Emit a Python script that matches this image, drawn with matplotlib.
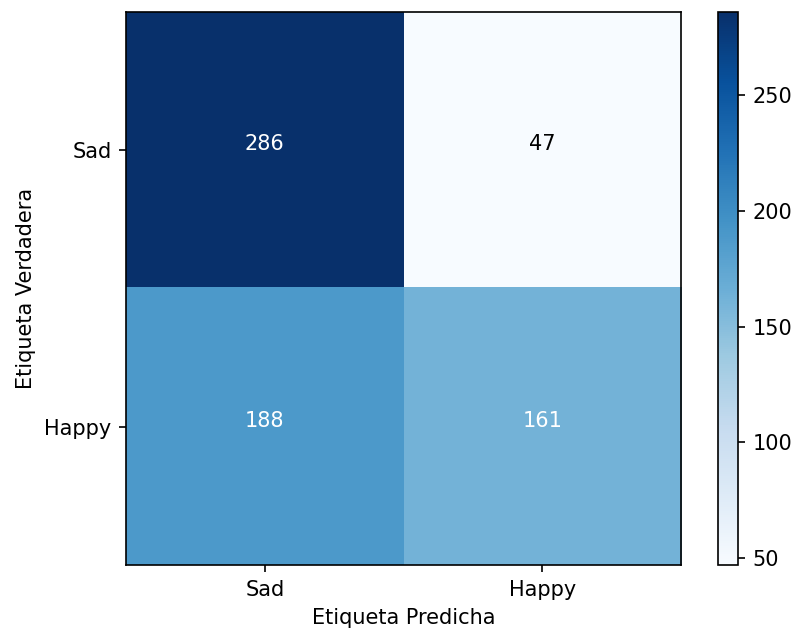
import numpy as np
import matplotlib
matplotlib.use("Agg")
import matplotlib.pyplot as plt

clases = ["Sad", "Happy"]
matriz = np.array([[286, 47],
                   [188, 161]])

# 800x628 px a 150 dpi
fig = plt.figure(figsize=(800 / 150, 628 / 150), dpi=150)
ax = fig.add_axes([0.1575, 0.1003, 0.694, 0.8806])
cax = fig.add_axes([0.8975, 0.1003, 0.025, 0.8806])

im = ax.imshow(matriz, cmap="Blues", interpolation="nearest")
fig.colorbar(im, cax=cax)

umbral = matriz.max() / 2.0
for i in range(matriz.shape[0]):
    for j in range(matriz.shape[1]):
        color = "white" if matriz[i, j] > umbral else "black"
        ax.text(j, i, str(matriz[i, j]), ha="center", color=color)

ax.set_xticks(range(len(clases)))
ax.set_xticklabels(clases)
ax.set_yticks(range(len(clases)))
ax.set_yticklabels(clases)
ax.set_xlabel("Etiqueta Predicha")
ax.set_ylabel("Etiqueta Verdadera")
ax.set_aspect("auto")

fig.savefig("out.png", dpi=150)
